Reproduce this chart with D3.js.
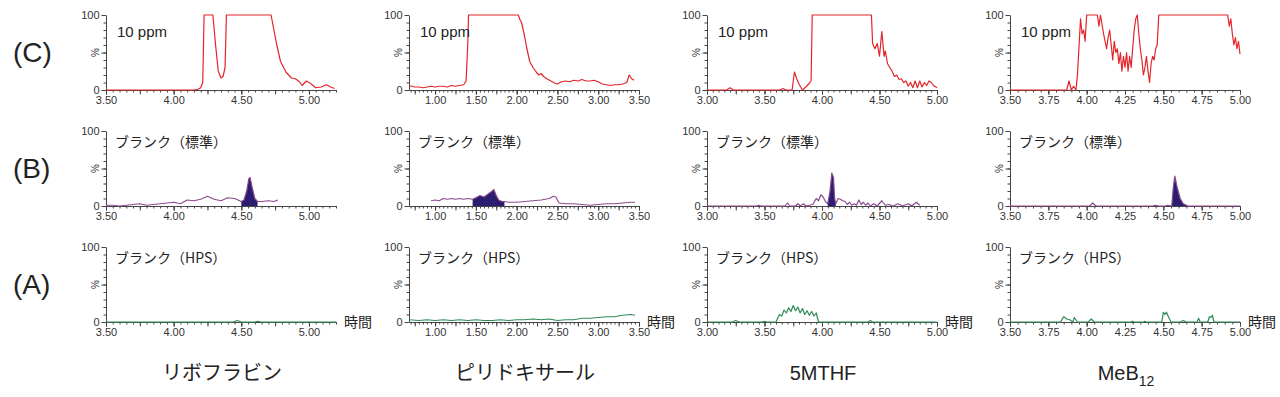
<!DOCTYPE html>
<html>
<head>
<meta charset="utf-8">
<script src="https://cdn.jsdelivr.net/npm/d3@7"></script>
<style>
  body { margin: 0; background: #fff; }
  svg { display: block; }
  text { font-family: "Liberation Sans", Arial, sans-serif; fill: #333; }
  .jp { font-family: "Noto Sans CJK JP", sans-serif; }
</style>
</head>
<body>
<div id="canvas"></div>
<script>
// columns: compound name, x domain, label step
var compounds = ['リボフラビン', 'ピリドキサール', '5MTHF', 'MeB'];
var domains = [[3.5, 5.2], [0.68, 3.5], [3.0, 5.0], [3.5, 5.0]];
var labelSteps = [0.5, 0.5, 0.5, 0.25];
var rowNames = ['(C)', '(B)', '(A)'];
var rowTitles = ['10 ppm', 'ブランク（標準）', 'ブランク（HPS）'];

// (C) 10 ppm traces
var ribC = [[3.5,0],[4.15,0],[4.18,1],[4.2,3],[4.215,10],[4.225,100],[4.29,100],[4.31,60],[4.33,25],[4.35,16],[4.365,18],[4.38,30],[4.39,100],[4.72,100],[4.76,62],[4.79,38],[4.83,24],[4.87,16],[4.9,15],[4.93,11],[4.95,6],[4.98,12],[5.01,9],[5.05,3],[5.09,4],[5.13,7],[5.16,4],[5.19,2]];
var pyrC = [[0.68,6],[0.75,4],[0.8,4],[0.85,3],[0.9,4],[0.95,5],[1.0,4],[1.05,5],[1.1,5],[1.15,4],[1.2,6],[1.25,5],[1.3,6],[1.35,7],[1.38,12],[1.40,60],[1.41,100],[2.02,100],[2.04,94],[2.06,90],[2.08,80],[2.1,70],[2.12,58],[2.14,48],[2.16,38],[2.2,30],[2.24,24],[2.27,20],[2.3,22],[2.33,18],[2.37,15],[2.42,12],[2.47,9],[2.5,8],[2.55,11],[2.6,12],[2.65,11],[2.7,13],[2.75,12],[2.8,14],[2.85,12],[2.9,12],[2.95,13],[3.0,11],[3.05,8],[3.1,7],[3.15,6],[3.2,7],[3.25,7],[3.3,8],[3.35,10],[3.38,20],[3.41,15],[3.44,13]];
var mthfC = [[3.0,0],[3.17,0],[3.2,3],[3.23,0],[3.63,0],[3.66,2],[3.69,0],[3.74,0],[3.76,24],[3.78,15],[3.8,8],[3.83,0],[3.86,4],[3.89,9],[3.905,12],[3.915,100],[4.43,100],[4.44,62],[4.46,55],[4.48,62],[4.5,45],[4.52,78],[4.54,45],[4.55,52],[4.57,35],[4.59,30],[4.61,25],[4.63,18],[4.65,20],[4.67,14],[4.69,15],[4.71,10],[4.73,12],[4.75,5],[4.77,10],[4.79,3],[4.81,12],[4.83,3],[4.85,12],[4.87,4],[4.89,10],[4.91,6],[4.93,12],[4.95,10],[4.97,6],[5.0,3]];
var mebC = [[3.5,0],[3.87,0],[3.885,12],[3.9,0],[3.915,5],[3.93,0],[3.94,20],[3.96,95],[3.97,75],[3.98,80],[3.99,65],[4.0,100],[4.07,100],[4.08,85],[4.09,100],[4.11,75],[4.13,55],[4.14,70],[4.15,80],[4.16,60],[4.17,40],[4.18,65],[4.19,50],[4.2,55],[4.21,35],[4.22,50],[4.23,25],[4.24,45],[4.25,30],[4.26,50],[4.27,25],[4.28,45],[4.29,30],[4.3,55],[4.31,80],[4.32,95],[4.33,100],[4.34,75],[4.35,55],[4.36,40],[4.37,20],[4.38,30],[4.39,45],[4.4,25],[4.41,10],[4.42,35],[4.43,45],[4.44,40],[4.45,55],[4.46,60],[4.47,100],[4.92,100],[4.93,85],[4.94,95],[4.95,75],[4.96,60],[4.97,70],[4.98,55],[4.99,65],[5.0,48]];

// (B) blank (standard) traces and integrated peaks
var ribB = [[3.5,1],[3.55,1],[3.6,0],[3.65,1],[3.7,2],[3.75,3],[3.8,1],[3.85,2],[3.9,3],[3.95,4],[4.0,5],[4.05,3],[4.1,8],[4.15,7],[4.2,9],[4.25,13],[4.3,9],[4.35,7],[4.4,11],[4.45,10],[4.5,6],[4.52,8],[4.54,20],[4.555,36],[4.565,38],[4.58,25],[4.6,10],[4.62,6],[4.65,6],[4.7,7],[4.74,6],[4.77,8]];
var ribBPeak = [[4.5,6],[4.52,8],[4.54,20],[4.555,36],[4.565,38],[4.58,25],[4.6,10],[4.62,6]];
var pyrB = [[0.95,7],[1.0,8],[1.05,7],[1.1,10],[1.15,9],[1.2,10],[1.25,9],[1.3,10],[1.35,9],[1.4,10],[1.46,9],[1.5,11],[1.55,14],[1.6,12],[1.65,16],[1.7,20],[1.72,22],[1.75,14],[1.78,8],[1.82,6],[1.85,6],[1.9,5],[2.0,5],[2.1,6],[2.2,7],[2.3,8],[2.4,10],[2.45,13],[2.48,12],[2.52,4],[2.6,3],[2.7,3],[2.8,2],[2.9,1],[3.0,2],[3.1,3],[3.2,3],[3.3,4],[3.4,5],[3.45,5]];
var pyrBPeak = [[1.46,9],[1.5,11],[1.55,14],[1.6,12],[1.65,16],[1.7,20],[1.72,22],[1.75,14],[1.78,8],[1.82,6],[1.85,6]];
var mthfB = [[3.0,0],[3.43,0],[3.45,1],[3.47,0],[3.68,0],[3.7,4],[3.72,0],[3.77,0],[3.79,3],[3.81,0],[3.84,3],[3.86,0],[3.92,2],[3.95,10],[3.97,7],[3.99,15],[4.01,12],[4.03,6],[4.05,3],[4.07,20],[4.085,44],[4.1,38],[4.11,10],[4.12,3],[4.14,10],[4.16,9],[4.18,7],[4.2,6],[4.22,2],[4.24,5],[4.26,1],[4.28,3],[4.3,1],[4.32,8],[4.34,2],[4.36,5],[4.38,1],[4.4,4],[4.42,0],[4.45,3],[4.48,0],[4.52,7],[4.55,1],[4.58,2],[4.62,0],[4.66,3],[4.7,0],[4.75,3],[4.78,0],[4.82,5],[4.85,1]];
var mthfBPeak = [[4.05,3],[4.07,20],[4.085,44],[4.1,38],[4.11,10],[4.12,3]];
var mebB = [[3.5,0],[4.02,0],[4.04,4],[4.06,0],[4.43,0],[4.45,1],[4.47,0],[4.51,0],[4.53,1],[4.555,0],[4.565,25],[4.575,40],[4.59,25],[4.61,10],[4.63,3],[4.65,1],[4.66,0],[5.0,0]];
var mebBPeak = [[4.555,0],[4.565,25],[4.575,40],[4.59,25],[4.61,10],[4.63,3],[4.65,1],[4.66,0]];

// (A) blank (HPS) traces
var ribA = [[3.5,0],[4.44,0],[4.47,2],[4.5,0],[4.6,0],[4.62,1],[4.65,0],[5.2,0]];
var pyrA = [[0.68,3],[0.8,2],[0.9,3],[1.0,2],[1.1,3],[1.2,2],[1.3,3],[1.4,2],[1.5,3],[1.6,2],[1.7,2],[1.8,3],[1.9,2],[2.0,3],[2.1,3],[2.2,4],[2.3,3],[2.4,4],[2.5,2],[2.6,3],[2.7,3],[2.8,5],[2.9,5],[3.0,6],[3.1,7],[3.2,7],[3.3,9],[3.4,10],[3.45,9]];
var mthfA = [[3.0,0],[3.22,0],[3.25,2],[3.28,0],[3.48,0],[3.5,1],[3.52,0],[3.6,0],[3.63,10],[3.65,8],[3.67,16],[3.69,12],[3.71,19],[3.73,14],[3.75,22],[3.77,15],[3.79,20],[3.81,12],[3.83,18],[3.85,10],[3.87,15],[3.89,9],[3.91,14],[3.93,8],[3.95,12],[3.97,0],[4.4,0],[4.42,2],[4.44,0],[5.0,0]];
var mebA = [[3.5,0],[3.83,0],[3.85,7],[3.87,4],[3.89,3],[3.91,0],[3.92,6],[3.94,0],[4.01,0],[4.03,4],[4.05,0],[4.29,0],[4.3,1],[4.31,0],[4.37,0],[4.38,1],[4.39,0],[4.49,0],[4.5,13],[4.51,10],[4.52,13],[4.54,4],[4.55,0],[4.61,0],[4.63,2],[4.65,0],[4.72,0],[4.73,5],[4.74,0],[4.79,0],[4.8,7],[4.81,6],[4.82,9],[4.83,0],[5.0,0]];

var traces = [
  [ribC, pyrC, mthfC, mebC],
  [ribB, pyrB, mthfB, mebB],
  [ribA, pyrA, mthfA, mebA]
];
var peaks = [ribBPeak, pyrBPeak, mthfBPeak, mebBPeak];
var lineColors = ['#e3242b', '#8c4a8e', '#2e8b57'];

var colX = [106, 409, 707, 1010], plotW = 230;
var rowY = [15, 131, 247], plotH = 75;

var svg = d3.select('#canvas').append('svg')
    .attr('width', 1280)
    .attr('height', 397);

//row labels
rowNames.forEach(function(n, r){
    svg.append('text')
        .attr('x', 13).attr('y', rowY[r] + 47)
        .style('font-size', '28px').style('fill', '#222')
        .text(n);
});

var y = d3.scaleLinear().domain([0, 100]).range([plotH, 0]);

compounds.forEach(function(c, i){
    var x = d3.scaleLinear().domain(domains[i]).range([0, plotW]);
    var d0 = domains[i][0], d1 = domains[i][1];

    var minor = d3.range(Math.ceil(d0 / 0.05 - 1e-6) * 0.05, d1 + 1e-6, 0.05).map(function(v){ return Math.round(v * 100) / 100; });
    var labels = minor.filter(function(v){ return Math.abs(v / labelSteps[i] - Math.round(v / labelSteps[i])) < 1e-6; });
    var mids = minor.filter(function(v){ return Math.abs(v * 4 - Math.round(v * 4)) < 1e-6; });

    rowY.forEach(function(top, r){
        var g = svg.append('g').attr('transform', 'translate(' + colX[i] + ',' + top + ')');

        // x axis minor ticks
        g.append('g').attr('transform', 'translate(0,' + plotH + ')')
            .call(d3.axisBottom(x).tickValues(minor).tickSize(2.5).tickFormat(''))
            .call(function(a){ a.select('.domain').remove(); });
        // quarter ticks
        g.append('g').attr('transform', 'translate(0,' + plotH + ')')
            .call(d3.axisBottom(x).tickValues(mids).tickSize(4.5).tickFormat(''))
            .call(function(a){ a.select('.domain').remove(); });
        g.append('g').attr('class', 'xaxis').attr('transform', 'translate(0,' + plotH + ')')
            .call(d3.axisBottom(x).tickValues(labels).tickSize(4.5).tickSizeOuter(0).tickPadding(2).tickFormat(d3.format('.2f')));

        // y axis
        g.append('g')
            .call(d3.axisLeft(y).tickValues(d3.range(0, 101, 10)).tickSize(2.5).tickFormat(''))
            .call(function(a){ a.select('.domain').remove(); });
        g.append('g').attr('class', 'yaxis')
            .call(d3.axisLeft(y).tickValues([0, 50, 100]).tickSize(4.5).tickSizeOuter(0).tickPadding(2)
                .tickFormat(function(v){ return v == 50 ? '' : v; }));
        g.append('text')
            .attr('transform', 'translate(-7,' + y(50) + ') rotate(-90)')
            .attr('text-anchor', 'middle')
            .style('font-size', '10px')
            .text('%');

        g.selectAll('.tick line').style('stroke', '#444');
        g.selectAll('.domain').style('stroke', '#444');
        g.selectAll('.tick text').style('font-size', '11px').style('fill', '#333')
            .style('font-family', '"Liberation Sans", Arial, sans-serif');

        // peak fill (row B)
        if (r == 1) {
            g.append('path').datum(peaks[i])
                .attr('d', d3.area().x(function(d){ return x(d[0]); }).y0(y(0)).y1(function(d){ return y(d[1]); }))
                .style('fill', '#2a1c6e');
        }

        g.append('path').datum(traces[r][i])
            .attr('d', d3.line().x(function(d){ return x(d[0]); }).y(function(d){ return y(d[1]); }))
            .style('fill', 'none')
            .style('stroke', lineColors[r])
            .style('stroke-width', 1.2)
            .style('stroke-linejoin', 'round');

        // panel title
        g.append('text')
            .attr('class', r == 0 ? '' : 'jp')
            .attr('x', r == 0 ? 11 : 9).attr('y', r == 0 ? 22 : 16)
            .style('font-size', r == 0 ? '15px' : '14px')
            .style('fill', '#222')
            .text(rowTitles[r]);

        if (r == 2) {
            g.append('text').attr('class', 'jp')
                .attr('x', plotW + 8).attr('y', plotH + 5)
                .style('font-size', '14px').style('fill', '#222')
                .text('時間');
        }
    });

    // compound name
    var t = svg.append('text')
        .attr('class', i == 0 || i == 1 ? 'jp' : '')
        .attr('x', colX[i] + plotW / 2 + 1).attr('y', 380)
        .attr('text-anchor', 'middle')
        .style('font-size', '20px').style('fill', '#222')
        .text(c);
    if (i == 3) {
        t.append('tspan').attr('dy', 6).style('font-size', '14px').text('12');
    }
});
</script>
</body>
</html>
